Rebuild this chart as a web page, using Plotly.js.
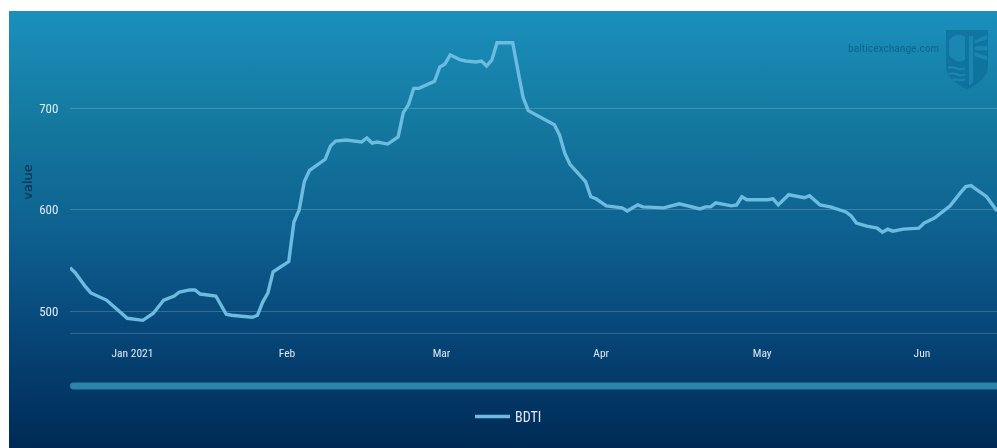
<!DOCTYPE html>
<html>
<head>
<meta charset="utf-8">
<script src="https://cdn.plot.ly/plotly-3.0.1.min.js"></script>
<style>
html,body{margin:0;padding:0;background:#fff;overflow:hidden;width:997px;height:448px}
#bg{position:absolute;left:9px;top:11px;width:988px;height:437px;
background:linear-gradient(180deg,#1a90bd 0%,#14799f 25%,#0e6190 50%,#07487a 72%,#002a56 100%)}
#chart{position:absolute;left:0;top:0;width:997px;height:448px;filter:blur(0.35px)}
</style>
</head>
<body>
<div id="bg"></div>
<div id="chart"></div>
<script>
var seriesName = 'BDTI';
var dates = ['2020-12-20','2020-12-21','2020-12-23','2020-12-24','2020-12-27','2020-12-29','2020-12-31','2021-01-03','2021-01-04','2021-01-05','2021-01-07','2021-01-09','2021-01-10','2021-01-12','2021-01-13','2021-01-14','2021-01-17','2021-01-19','2021-01-20','2021-01-24','2021-01-25','2021-01-26','2021-01-27','2021-01-28','2021-01-31','2021-02-01','2021-02-02','2021-02-03','2021-02-04','2021-02-07','2021-02-08','2021-02-09','2021-02-11','2021-02-14','2021-02-15','2021-02-16','2021-02-17','2021-02-19','2021-02-21','2021-02-22','2021-02-23','2021-02-24','2021-02-25','2021-02-28','2021-03-01','2021-03-02','2021-03-03','2021-03-05','2021-03-06','2021-03-08','2021-03-09','2021-03-10','2021-03-11','2021-03-12','2021-03-15','2021-03-17','2021-03-18','2021-03-23','2021-03-24','2021-03-25','2021-03-26','2021-03-29','2021-03-30','2021-03-31','2021-04-02','2021-04-05','2021-04-06','2021-04-08','2021-04-09','2021-04-13','2021-04-16','2021-04-20','2021-04-21','2021-04-22','2021-04-23','2021-04-26','2021-04-27','2021-04-28','2021-04-29','2021-05-03','2021-05-04','2021-05-05','2021-05-07','2021-05-10','2021-05-11','2021-05-13','2021-05-15','2021-05-18','2021-05-19','2021-05-20','2021-05-22','2021-05-24','2021-05-25','2021-05-26','2021-05-27','2021-05-29','2021-06-01','2021-06-02','2021-06-04','2021-06-07','2021-06-09','2021-06-10','2021-06-11','2021-06-14','2021-06-16'];
var values = [543,538,524,518,511,502,493,491,495,498,511,515,519,521,521,517,515,497,496,494,496,509,518,539,549,588,600,628,639,650,663,668,669,667,671,666,667,665,672,696,704,720,720,727,741,744,753,748,747,746,747,742,748,765,765,711,698,684,674,656,645,628,613,611,604,602,599,605,603,602,606,601,603,603,607,604,605,613,610,610,611,605,615,612,614,605,603,598,594,587,584,582,578,581,579,581,582,587,592,604,617,623,624,613,599];
var monthTicks = ['2021-01-01','2021-01-30 16:00','2021-03-01 08:00','2021-04-01','2021-05-01 22:00','2021-06-01 14:00'];
var monthLabels = ['Jan 2021','Feb','Mar','Apr','May','Jun'];
var valueTicks = [500,600,700];

var narrow = '"Liberation Sans Narrow","Roboto Condensed","Liberation Sans",sans-serif';
var shield = '<svg xmlns="http://www.w3.org/2000/svg" viewBox="0 0 42 59">' +
 '<path d="M0 0H42V36C42 47 30 55 21 59C12 55 0 47 0 36Z" fill="#0d6d99" opacity="0.75"/>' +
 '<path d="M23 6H27V52L23 55Z" fill="#1a87b3"/>' +
 '<path d="M29 10L41 5V9L29 13ZM29 16H41V20H29ZM29 22L41 26V30L29 26Z" fill="#1a87b3"/>' +
 '<path d="M3 10C8 3 15 4 19 6V30C12 34 5 28 3 24Z" fill="#1a87b3"/>' +
 '<path d="M2 38C7 34 12 42 19 38M3 44C8 40 12 48 19 44M7 50C10 47 14 52 19 49" stroke="#1a87b3" stroke-width="2.2" fill="none"/>' +
 '</svg>';

var layout = {
  width: 997, height: 448,
  margin: {l: 70, r: 0, t: 31, b: 115, pad: 0},
  paper_bgcolor: 'rgba(0,0,0,0)',
  plot_bgcolor: 'rgba(0,0,0,0)',
  showlegend: true,
  legend: {orientation: 'h', x: 0.4315, xanchor: 'left', y: -0.225, yanchor: 'top',
    font: {family: narrow, size: 14, color: '#dfeaf2'}, itemwidth: 35, bgcolor: 'rgba(0,0,0,0)'},
  xaxis: {
    type: 'date', range: ['2020-12-20','2021-06-16'],
    tickmode: 'array', tickvals: monthTicks, ticktext: monthLabels,
    tickfont: {family: narrow, size: 11.5, color: '#dfeaf2'},
    ticks: 'outside', ticklen: 9, tickcolor: 'rgba(0,0,0,0)',
    showgrid: false, showline: true, linecolor: 'rgba(255,255,255,0.18)', linewidth: 1, zeroline: false
  },
  yaxis: {
    range: [478.5, 776.6],
    tickmode: 'array', tickvals: valueTicks,
    tickfont: {family: narrow, size: 13, color: '#dfeaf2'},
    ticks: 'outside', ticklen: 8, tickcolor: 'rgba(0,0,0,0)',
    showgrid: true, gridcolor: 'rgba(255,255,255,0.18)', gridwidth: 1, zeroline: false, showline: false,
    title: {text: 'value', standoff: 3, font: {family: 'DejaVu Sans', size: 13, color: '#062c52'}}
  },
  shapes: [{
    type: 'path', xref: 'paper', yref: 'paper',
    path: 'M 0.004,-0.164 L 1.01,-0.164 L 1.01,-0.187 L 0.004,-0.187 Q 0,-0.187 0,-0.1755 Q 0,-0.164 0.004,-0.164 Z',
    fillcolor: '#2a84ac', line: {width: 0}
  }],
  annotations: [{
    xref: 'paper', yref: 'paper', x: 0.940, y: 0.943, xanchor: 'right', yanchor: 'middle',
    text: 'balticexchange.com', showarrow: false,
    font: {family: narrow, size: 11.5, color: 'rgba(10,95,135,0.85)'}
  }],
  images: [{
    source: 'data:image/svg+xml;utf8,' + encodeURIComponent(shield),
    xref: 'paper', yref: 'paper', x: 0.945, y: 1.003, sizex: 0.0453, sizey: 0.196,
    xanchor: 'left', yanchor: 'top', sizing: 'stretch', layer: 'above'
  }]
};

Plotly.newPlot('chart', [{
  type: 'scatter', mode: 'lines', name: seriesName,
  x: dates, y: values,
  line: {color: '#6cbbe0', width: 3.4, shape: 'linear'}
}], layout, {displayModeBar: false, staticPlot: true});
</script>
</body>
</html>
